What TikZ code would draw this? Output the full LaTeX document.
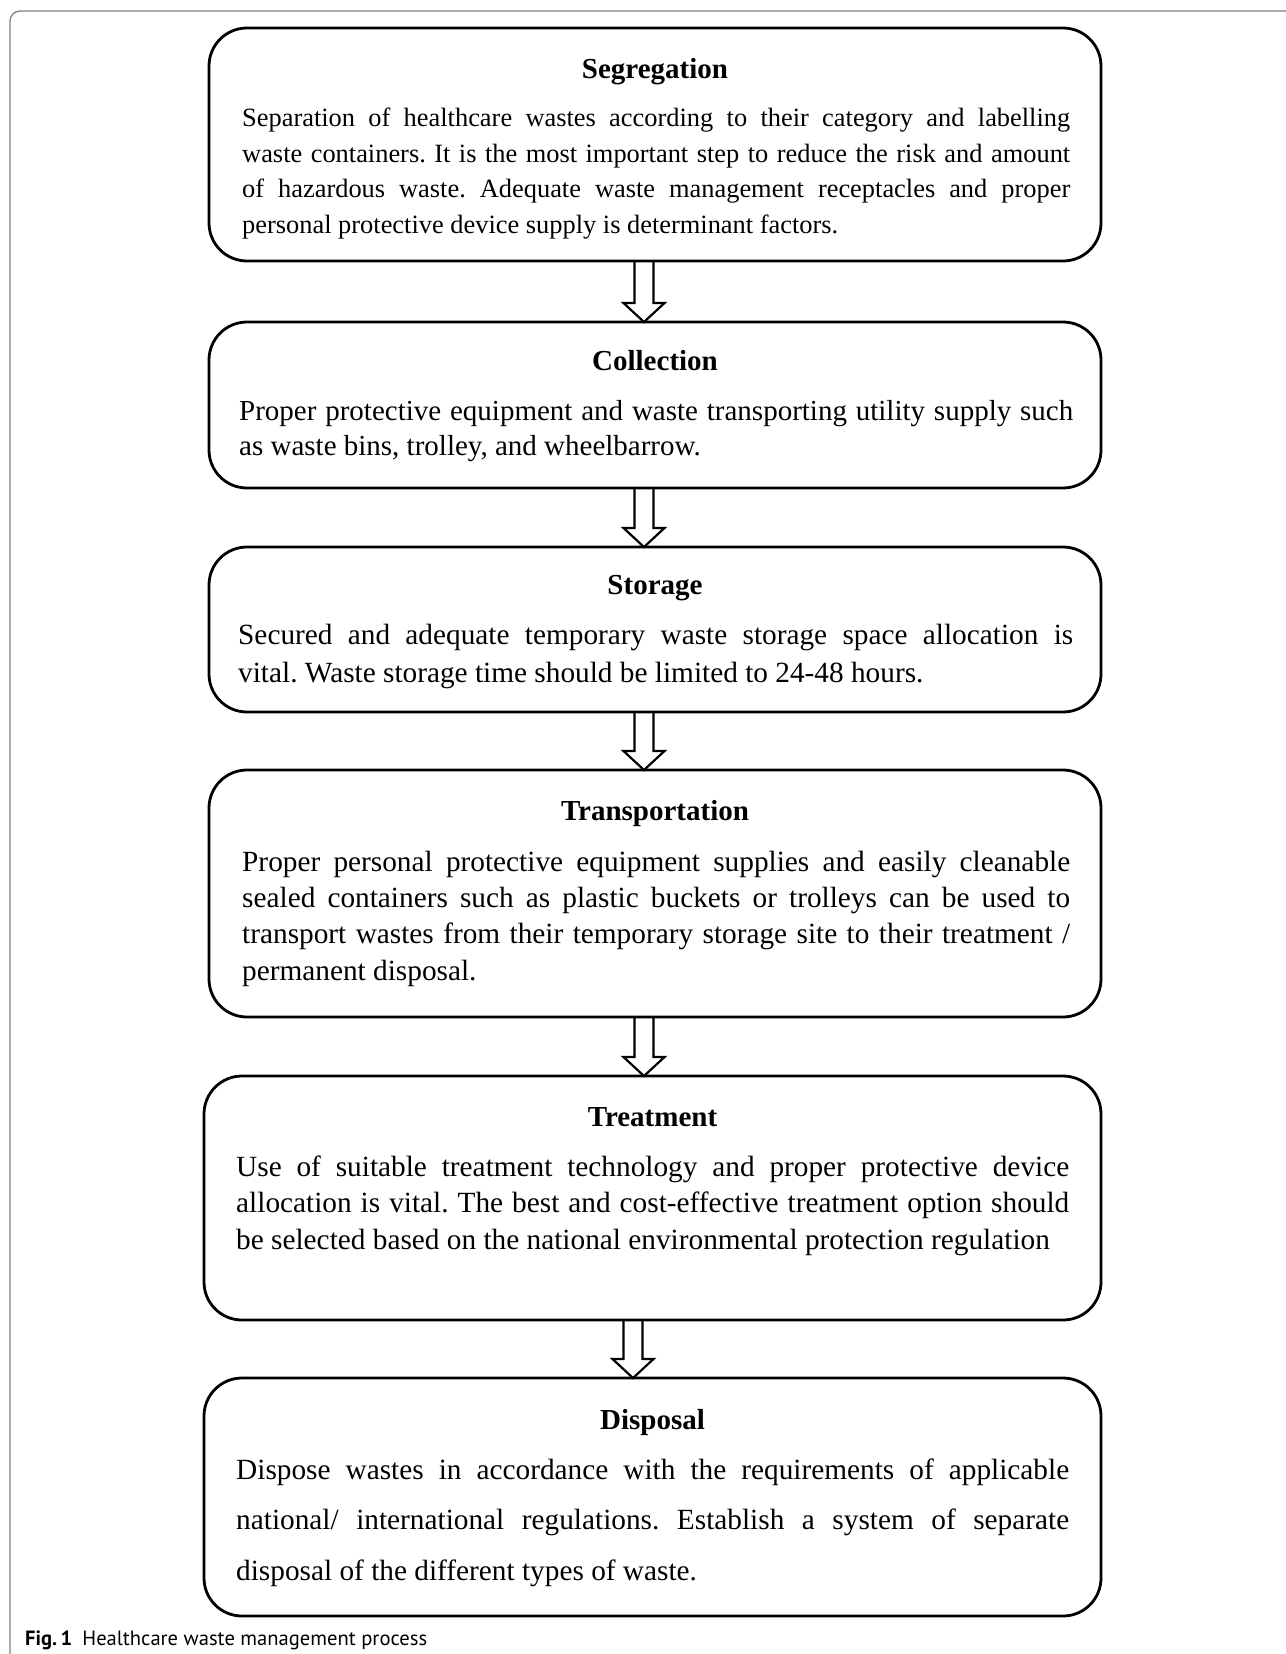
\documentclass[tikz,border=0pt]{standalone}
\usepackage{fontspec}
\setmainfont{Liberation Serif}
\newfontfamily\capfont{PT Sans}
\usetikzlibrary{calc}
\newcommand\jl[1]{\makebox[\linewidth][s]{#1}}
\frenchspacing
\tikzset{
  box/.style={draw, line width=2.8pt, rounded corners=38pt, anchor=north west, inner sep=0pt, outer sep=0pt},
  ttl/.style={anchor=base, inner sep=0pt, font=\fontsize{29}{35}\selectfont\bfseries},
  body/.style={anchor=base west, inner sep=0pt},
  blockarrow/.style={draw, line width=2.2pt, line join=miter,
    to path={($(\tikztostart)+(-9.5pt,0pt)$) -- ($(\tikztotarget)+(-9.5pt,19pt)$) -- ($(\tikztotarget)+(-20.5pt,19pt)$) -- (\tikztotarget) -- ($(\tikztotarget)+(20.5pt,19pt)$) -- ($(\tikztotarget)+(9.5pt,19pt)$) -- ($(\tikztostart)+(9.5pt,0pt)$)}},
  frame/.style={draw=black!50, line width=1.3pt, rounded corners=10pt}
}
\begin{document}
\begin{tikzpicture}[x=1pt,y=-1pt]
\useasboundingbox (0,0) rectangle (1285,1654);
\fill[white] (0,0) rectangle (1285,1654);
% outer frame (open at right and bottom)
\draw[frame] (1300,11) -- (10,11) -- (10,1670);

% boxes
\node[box, minimum width=892pt, minimum height=233pt] (b1) at (209,28) {};
\node[box, minimum width=892pt, minimum height=166pt] (b2) at (209,322) {};
\node[box, minimum width=892pt, minimum height=165pt] (b3) at (209,547) {};
\node[box, minimum width=892pt, minimum height=247pt] (b4) at (209,770) {};
\node[box, minimum width=897pt, minimum height=244pt] (b5) at (204,1076) {};
\node[box, minimum width=897pt, minimum height=238pt] (b6) at (204,1378) {};

% titles
\node[ttl] (t1) at (655,78.5) {Segregation};
\node[ttl] (t2) at (655,370.5) {Collection};
\node[ttl] (t3) at (655,594.5) {Storage};
\node[ttl] (t4) at (655,820.5) {Transportation};
\node[ttl] (t5) at (652.5,1126.5) {Treatment};
\node[ttl] (t6) at (652.5,1429) {Disposal};

% body texts
\node[body] (d1) at (242,126.5) {\parbox[t]{828pt}{\fontsize{26.4}{35.5}\selectfont
\jl{Separation of healthcare wastes according to their category and labelling}\\
\jl{waste containers. It is the most important step to reduce the risk and amount}\\
\jl{of hazardous waste. Adequate waste management receptacles and proper}\\
personal protective device supply is determinant factors.}};

\node[body] (d2) at (239,420) {\parbox[t]{834pt}{\fontsize{29}{35.5}\selectfont
\jl{Proper protective equipment and waste transporting utility supply such}\\
as waste bins, trolley, and wheelbarrow.}};

\node[body] (d3) at (238,644) {\parbox[t]{835pt}{\fontsize{29.3}{38}\selectfont
\jl{Secured and adequate temporary waste storage space allocation is}\\
vital. Waste storage time should be limited to 24-48 hours.}};

\node[body] (d4) at (242,871) {\parbox[t]{828pt}{\fontsize{29.3}{36.4}\selectfont
\jl{Proper personal protective equipment supplies and easily cleanable}\\
\jl{sealed containers such as plastic buckets or trolleys can be used to}\\
\jl{transport wastes from their temporary storage site to their treatment /}\\
permanent disposal.}};

\node[body] (d5) at (236,1176) {\parbox[t]{833pt}{\fontsize{29.3}{36.5}\selectfont
\jl{Use of suitable treatment technology and proper protective device}\\
\jl{allocation is vital. The best and cost-effective treatment option should}\\
be selected based on the national environmental protection regulation}};

\node[body] (d6) at (236,1479) {\parbox[t]{833pt}{\fontsize{29.3}{50.5}\selectfont
\jl{Dispose wastes in accordance with the requirements of applicable}\\
\jl{national/ international regulations. Establish a system of separate}\\
disposal of the different types of waste.}};

% arrows
\coordinate (s1) at ([xshift=-11pt]b1.south);
\coordinate (e1) at ([xshift=-11pt]b2.north);
\coordinate (s2) at ([xshift=-11pt]b2.south);
\coordinate (e2) at ([xshift=-11pt]b3.north);
\coordinate (s3) at ([xshift=-11pt]b3.south);
\coordinate (e3) at ([xshift=-11pt]b4.north);
\coordinate (s4) at ([xshift=-11pt]b4.south);
\coordinate (e4) at ([xshift=-8.5pt]b5.north);
\coordinate (s5) at ([xshift=-19.5pt]b5.south);
\coordinate (e5) at ([xshift=-19.5pt]b6.north);
\draw[blockarrow] (s1) to (e1);
\draw[blockarrow] (s2) to (e2);
\draw[blockarrow] (s3) to (e3);
\draw[blockarrow] (s4) to (e4);
\draw[blockarrow] (s5) to (e5);

% caption
\node[anchor=base west, inner sep=0pt, font=\capfont\fontsize{20.6}{24}\selectfont] (cap) at (25,1645)
  {\textbf{Fig.\,1}\hspace{10pt}Healthcare waste management process};
\end{tikzpicture}
\end{document}
